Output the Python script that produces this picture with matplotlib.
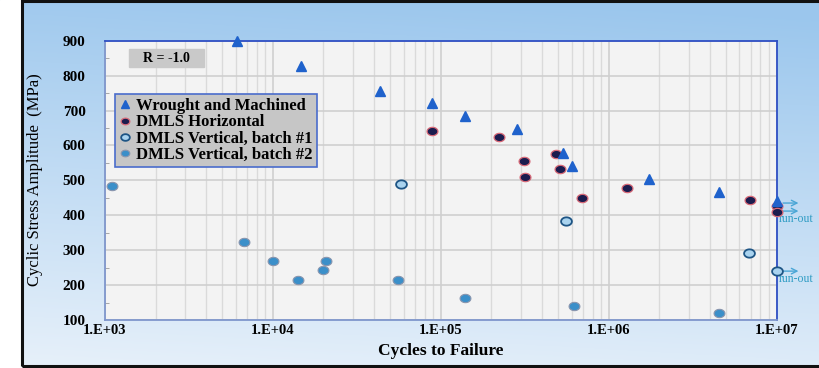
import numpy as np
import matplotlib
matplotlib.use('Agg')
import matplotlib.pyplot as plt
from matplotlib.path import Path
from matplotlib.patches import Rectangle

# S-N data, cycles to failure vs cyclic stress amplitude (MPa)
wrought_n = [6.1e3, 1.47e4, 4.33e4, 8.87e4, 1.4e5, 2.86e5, 5.35e5, 6.08e5, 1.74e6, 4.52e6, 1.0e7]
wrought_s = [900, 827, 756, 721, 684, 647, 577, 541, 504, 467, 441]

horiz_n = [8.87e4, 2.21e5, 4.82e5, 3.12e5, 5.11e5, 3.18e5, 6.88e5, 1.285e6, 6.9e6, 1.0e7, 1.0e7]
horiz_s = [642, 625, 576, 555, 532, 509, 450, 477, 444, 427, 410]

vert1_n = [5.83e4, 5.55e5, 6.8e6, 1.0e7]
vert1_s = [489, 383, 291, 240]

vert2_n = [1.096e3, 6.72e3, 9.96e3, 1.41e4, 1.99e4, 2.08e4, 5.57e4, 1.39e5, 6.21e5, 4.53e6]
vert2_s = [484, 322, 269, 216, 244, 269, 216, 162, 140, 119]

# run-out arrows (stress level) and their labels
runout_s = [435, 412, 240]
runout_lbl_s = [389, 217]

x_ticks = [1e3, 1e4, 1e5, 1e6, 1e7]
x_ticklabels = ['1.E+03', '1.E+04', '1.E+05', '1.E+06', '1.E+07']
y_ticks = [100, 200, 300, 400, 500, 600, 700, 800, 900]

serif = ['Liberation Serif', 'DejaVu Serif']

fig = plt.figure(figsize=(8.19, 3.68), dpi=100)

# gradient backdrop with a dark frame
bg = fig.add_axes([0, 0, 1, 1], zorder=-10)
bg.set_axis_off()
yy, xx = np.mgrid[0:1:200j, 0:1:300j]
top = np.array([0.61, 0.78, 0.93])
bot = np.array([0.90, 0.94, 0.98])
t = np.clip(yy * 0.95 + (1 - xx) * 0.12 - 0.05, 0, 1)[..., None]
img = top * (1 - t) + bot * t
bg.imshow(img, extent=[0, 1, 0, 1], aspect='auto', origin='upper')
bg.add_patch(Rectangle((0, 0), 22 / 819, 1, color='white', zorder=2))
bg.add_patch(Rectangle((22 / 819, 2 / 368), 1.0, 365 / 368, fill=False,
                       edgecolor='#111111', lw=2.2, zorder=3))
bg.set_xlim(0, 1)
bg.set_ylim(0, 1)

ax = fig.add_axes([105 / 819, 48 / 368, 671.7 / 819, 279.3 / 368])
ax.set_facecolor('#f3f3f3')
ax.set_xscale('log')
ax.set_xlim(1e3, 1e7)
ax.set_ylim(100, 900)

ax.grid(True, which='major', axis='both', color='#cfcfcf', lw=1.2, zorder=0)
ax.grid(True, which='minor', axis='x', color='#dadada', lw=1.0, zorder=0)

# grey panel behind the load ratio note
ax.add_patch(Rectangle((129 / 819, 1 - 67 / 368), 75 / 819, 18 / 368,
                       color='#c9c9c9', transform=fig.transFigure, zorder=3))

ell = np.linspace(0, 2 * np.pi, 40)
oval = Path(np.column_stack([1.3 * np.cos(ell), np.sin(ell)]), closed=True)

ax.plot(wrought_n, wrought_s, ls='none', marker='^', ms=7.2, mfc='#1f62cc',
        mec='#1f62cc', label='Wrought and Machined', zorder=5, clip_on=False)
ax.plot(horiz_n, horiz_s, ls='none', marker=oval, ms=7.8, mfc='#1b1c4e',
        mec='#d86a78', mew=0.9, label='DMLS Horizontal', zorder=4, clip_on=False)
ax.plot(vert1_n, vert1_s, ls='none', marker=oval, ms=7.8, mfc='#a9d3ef',
        mec='#1e5585', mew=1.3, label='DMLS Vertical, batch #1', zorder=4, clip_on=False)
ax.plot(vert2_n, vert2_s, ls='none', marker=oval, ms=7.8, mfc='#3b8fc9',
        mec='#8a96ae', mew=0.8, label='DMLS Vertical, batch #2', zorder=4, clip_on=False)

for s in runout_s:
    ax.annotate('', xy=(1.4e7, s), xytext=(1.05e7, s), annotation_clip=False,
                arrowprops=dict(arrowstyle='->', color='#4aa6d6', lw=1.0))
for s in runout_lbl_s:
    ax.text(1.03e7, s, 'run-out', color='#2f9cc4', fontsize=8.5, family=serif,
            ha='left', va='center', clip_on=False)

ax.set_xticks(x_ticks)
ax.set_xticklabels(x_ticklabels)
ax.set_yticks(y_ticks)
ax.set_yticks(np.arange(150, 900, 100), minor=True)
ax.tick_params(axis='both', which='major', length=0)
ax.tick_params(axis='x', which='major', pad=3)
ax.tick_params(axis='y', which='major', pad=14)
ax.tick_params(axis='x', which='minor', length=0)
ax.tick_params(axis='y', which='minor', length=3, direction='in', color='#9a9a9a')
for lab in ax.get_xticklabels():
    lab.set_fontfamily(serif)
    lab.set_fontweight('bold')
    lab.set_fontsize(10.5)
for lab in ax.get_yticklabels():
    lab.set_fontfamily(serif)
    lab.set_fontweight('bold')
    lab.set_fontsize(11)

for side in ['top', 'right']:
    ax.spines[side].set_color('#2f4fc4')
    ax.spines[side].set_linewidth(1.3)
for side in ['left', 'bottom']:
    ax.spines[side].set_color('#7f96cc')
    ax.spines[side].set_linewidth(1.3)

ax.set_xlabel('Cycles to Failure', family=serif, fontweight='bold', fontsize=12.5,
              labelpad=4)
fig.text(35 / 819, 1 - 180 / 368, 'Cyclic Stress Amplitude  (MPa)', family=serif,
         fontsize=12, rotation=90, ha='center', va='center')

ax.text(166 / 819, 1 - 58 / 368, 'R = -1.0', family=serif, fontweight='bold',
        fontsize=10, ha='center', va='center', transform=fig.transFigure, zorder=4)

leg = ax.legend(loc='upper left', bbox_to_anchor=(115 / 819, 1 - 94 / 368),
                bbox_transform=fig.transFigure, borderaxespad=0, fancybox=False,
                framealpha=1, facecolor='#c6c6c6', edgecolor='#4a6ccc',
                prop=dict(family=serif, weight='bold', size=12), handlelength=0.7,
                handletextpad=0.3, labelspacing=0.02, borderpad=0.25,
                markerscale=0.8)
leg.get_frame().set_linewidth(1.2)

fig.savefig('out.png', dpi=100)
